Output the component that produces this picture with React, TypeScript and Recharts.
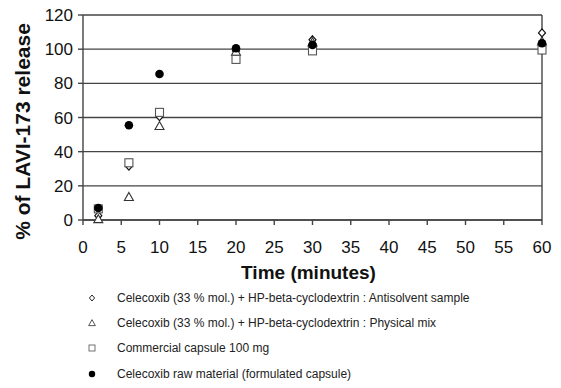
import {
    ScatterChart,
    Scatter,
    XAxis,
    YAxis,
    CartesianGrid,
    ReferenceLine,
} from 'recharts';

const times = [2, 6, 10, 20, 30, 60];
const antisolvent = [2.5, 31.5, 60.5, 99, 105.5, 109.5];
const physicalMix = [0.5, 13.5, 55, 98.5, 104, 104.5];
const commercial = [6.5, 33.5, 63, 94, 99, 99.5];
const rawMaterial = [7, 55.5, 85.5, 100.5, 102.5, 103.5];

const xTicks = [0, 5, 10, 15, 20, 25, 30, 35, 40, 45, 50, 55, 60];
const yTicks = [0, 20, 40, 60, 80, 100, 120];

const seriesNames = [
    'Celecoxib (33 % mol.) + HP-beta-cyclodextrin : Antisolvent sample',
    'Celecoxib (33 % mol.) + HP-beta-cyclodextrin : Physical mix',
    'Commercial capsule 100 mg',
    'Celecoxib raw material (formulated capsule)',
];

const toPoints = (values: number[]) => times.map((t, i) => ({ x: t, y: values[i] }));

const FONT = '"Liberation Sans", Arial, sans-serif';
const GRID = '#444';

const Diamond = ({ cx, cy }: any) => (
    <path d={`M${cx},${cy - 4} L${cx + 3.5},${cy} L${cx},${cy + 4} L${cx - 3.5},${cy} Z`} fill="#fff" stroke="#111" strokeWidth={1.2} />
);
const Triangle = ({ cx, cy }: any) => (
    <path d={`M${cx},${cy - 4.5} L${cx + 4.5},${cy + 3.5} L${cx - 4.5},${cy + 3.5} Z`} fill="#fff" stroke="#333" strokeWidth={1.1} />
);
const Square = ({ cx, cy }: any) => (
    <rect x={cx - 4} y={cy - 4} width={8} height={8} fill="#fff" stroke="#555" strokeWidth={1.1} />
);
const Dot = ({ cx, cy }: any) => <circle cx={cx} cy={cy} r={4.3} fill="#000" />;

const legendShapes = [Diamond, Triangle, Square, Dot];
const legendRows = [298, 323, 348, 374];

const YLabel = ({ viewBox }: any) => {
    const cy = viewBox.y + viewBox.height / 2 + 14;
    return (
        <text x={22} y={cy} transform={`rotate(-90, 22, ${cy})`} textAnchor="middle" dominantBaseline="central"
            fontFamily={FONT} fontSize={21} fontWeight="bold" fill="#111">
            % of LAVI-173 release
        </text>
    );
};

const XLabel = ({ viewBox }: any) => (
    <text x={viewBox.x + viewBox.width / 2 - 4} y={279} textAnchor="middle"
        fontFamily={FONT} fontSize={19} fontWeight="bold" fill="#111">
        Time (minutes)
    </text>
);

export default function App() {
    return (
        <div style={{ position: 'absolute', left: 0, top: 0, width: 561, height: 388, background: '#fff' }}>
            <ScatterChart width={561} height={388} margin={{ top: 15, right: 19, bottom: 0, left: 0 }}>
                <CartesianGrid vertical={false} stroke={GRID} strokeWidth={1.4} />
                <XAxis
                    type="number"
                    dataKey="x"
                    domain={[0, 60]}
                    ticks={xTicks}
                    interval={0}
                    height={168}
                    tickSize={5}
                    tickMargin={16}
                    stroke={GRID}
                    strokeWidth={1.4}
                    tick={{ fill: '#111', fontSize: 17, fontFamily: FONT }}
                    label={<XLabel />}
                />
                <YAxis
                    type="number"
                    dataKey="y"
                    domain={[0, 120]}
                    ticks={yTicks}
                    interval={0}
                    width={83}
                    tickSize={5}
                    tickMargin={5}
                    stroke={GRID}
                    strokeWidth={1.4}
                    tick={{ fill: '#111', fontSize: 17, fontFamily: FONT }}
                    label={<YLabel />}
                />
                <ReferenceLine x={60} stroke={GRID} strokeWidth={1.4} />
                <Scatter data={toPoints(antisolvent)} shape={<Diamond />} isAnimationActive={false} />
                <Scatter data={toPoints(physicalMix)} shape={<Triangle />} isAnimationActive={false} />
                <Scatter data={toPoints(commercial)} shape={<Square />} isAnimationActive={false} />
                <Scatter data={toPoints(rawMaterial)} shape={<Dot />} isAnimationActive={false} />
            </ScatterChart>
            {seriesNames.map((name, i) => {
                const Shape = legendShapes[i];
                return (
                    <div key={name} style={{ position: 'absolute', left: 84, top: legendRows[i] - 8, height: 16, display: 'flex', alignItems: 'center' }}>
                        <svg width={16} height={16}>
                            <g transform="translate(8,8) scale(0.75) translate(-8,-8)">
                                <Shape cx={8} cy={8} />
                            </g>
                        </svg>
                        <span style={{ marginLeft: 17, fontFamily: FONT, fontSize: 12, color: '#222', whiteSpace: 'nowrap' }}>{name}</span>
                    </div>
                );
            })}
        </div>
    );
}
